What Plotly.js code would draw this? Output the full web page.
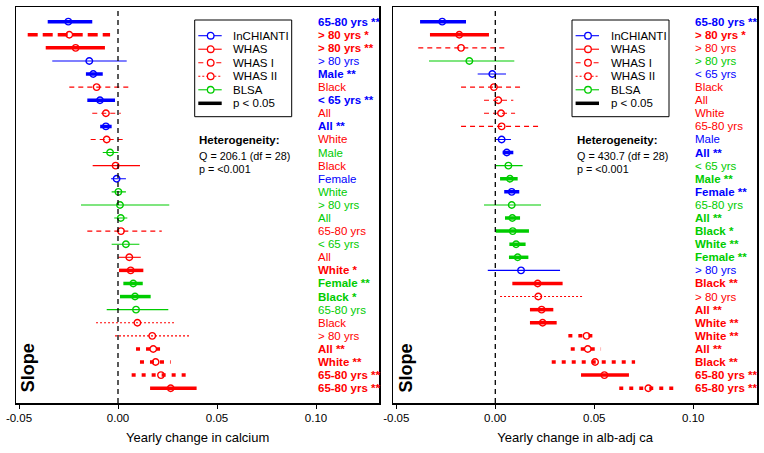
<!DOCTYPE html>
<html><head><meta charset="utf-8">
<script src="https://cdn.plot.ly/plotly-3.0.1.min.js"></script>
<style>html,body{margin:0;padding:0;background:#fff}</style>
</head><body><div id="chart" style="width:764px;height:453px"></div>
<script>
// ---- Data: left panel (yearly change in calcium) ----
const L_label = ["65-80 yrs","> 80 yrs","> 80 yrs","> 80 yrs","Male","Black","< 65 yrs","All","All","White","Male","Black","Female","White","> 80 yrs","All","65-80 yrs","< 65 yrs","All","White","Female","Black","65-80 yrs","Black","> 80 yrs","All","White","65-80 yrs","65-80 yrs"];
const L_star = ["**","*","**","","**","","**","","**","","","","","","","","","","","*","**","*","","","","**","**","**","**"];
const L_study = ["InCHIANTI","WHAS I","WHAS","InCHIANTI","InCHIANTI","WHAS I","InCHIANTI","WHAS I","InCHIANTI","WHAS I","BLSA","WHAS","InCHIANTI","BLSA","BLSA","BLSA","WHAS I","BLSA","WHAS","WHAS","BLSA","BLSA","BLSA","WHAS II","WHAS II","WHAS II","WHAS II","WHAS II","WHAS"];
const L_pt = [-0.0251,-0.0246,-0.0214,-0.0145,-0.0125,-0.0108,-0.0091,-0.0061,-0.0061,-0.0057,-0.0040,-0.0012,-0.0007,0.0002,0.0010,0.0014,0.0015,0.0040,0.0057,0.0064,0.0077,0.0086,0.0091,0.0098,0.0173,0.0178,0.0190,0.0217,0.0266];
const L_lo = [-0.0355,-0.0456,-0.0365,-0.0332,-0.0162,-0.0246,-0.0155,-0.0130,-0.0090,-0.0138,-0.0077,-0.0128,-0.0035,-0.0032,-0.0187,-0.0019,-0.0155,-0.0032,0.0002,0.0005,0.0027,0.0010,-0.0057,-0.0111,-0.0015,0.0091,0.0111,0.0069,0.0162];
const L_hi = [-0.0130,-0.0040,-0.0066,0.0044,-0.0077,0.0061,-0.0015,0.0014,-0.0032,0.0027,0.0002,0.0111,0.0040,0.0040,0.0259,0.0047,0.0221,0.0108,0.0115,0.0128,0.0125,0.0165,0.0254,0.0288,0.0364,0.0241,0.0266,0.0364,0.0397];

// ---- Data: right panel (yearly change in albumin-adjusted calcium) ----
const R_label = ["65-80 yrs","> 80 yrs","> 80 yrs","> 80 yrs","< 65 yrs","Black","All","White","65-80 yrs","Male","All","< 65 yrs","Male","Female","65-80 yrs","All","Black","White","Female","> 80 yrs","Black","> 80 yrs","All","White","White","All","Black","65-80 yrs","65-80 yrs"];
const R_star = ["**","*","","","","","","","","","**","","**","**","","**","*","**","**","","**","","**","**","**","**","**","**","**"];
const R_study = ["InCHIANTI","WHAS","WHAS I","BLSA","InCHIANTI","WHAS I","WHAS I","WHAS I","WHAS I","InCHIANTI","InCHIANTI","BLSA","BLSA","InCHIANTI","BLSA","BLSA","BLSA","BLSA","BLSA","InCHIANTI","WHAS","WHAS II","WHAS","WHAS","WHAS II","WHAS II","WHAS II","WHAS","WHAS II"];
const R_pt = [-0.0268,-0.0182,-0.0173,-0.0131,-0.0015,-0.0007,0.0015,0.0029,0.0032,0.0032,0.0058,0.0066,0.0074,0.0083,0.0083,0.0086,0.0088,0.0105,0.0113,0.0130,0.0214,0.0217,0.0234,0.0239,0.0461,0.0467,0.0504,0.0551,0.0773];
const R_lo = [-0.0380,-0.0330,-0.0389,-0.0335,-0.0089,-0.0173,-0.0057,-0.0057,-0.0173,0.0002,0.0037,0.0002,0.0024,0.0045,-0.0057,0.0049,0.0002,0.0071,0.0069,-0.0038,0.0086,0.0024,0.0175,0.0175,0.0369,0.0381,0.0285,0.0433,0.0626];
const R_hi = [-0.0148,-0.0032,0.0054,0.0096,0.0054,0.0133,0.0091,0.0100,0.0222,0.0079,0.0091,0.0138,0.0113,0.0121,0.0231,0.0125,0.0170,0.0153,0.0167,0.0327,0.0340,0.0441,0.0293,0.0310,0.0520,0.0534,0.0706,0.0675,0.0919];

const studies = ["InCHIANTI","WHAS","WHAS I","WHAS II","BLSA"];
const tickVals = [-0.05, 0, 0.05, 0.10];
const tickText = ["-0.05","0.00","0.05","0.10"];
const xTitles = ["Yearly change in calcium","Yearly change in alb-adj ca"];
const Qtext = ["Q = 206.1 (df = 28)","Q = 430.7 (df = 28)"];
const Ptext = ["p = <0.001","p = <0.001"];

// ---- Styling ----
const W = 764, H = 453, T = 7, B = 50;
const FONT = "Arial, 'Liberation Sans', sans-serif";
const COL = {"InCHIANTI":"#0000FF","WHAS":"#FF0000","WHAS I":"#FF0000","WHAS II":"#FF0000","BLSA":"#00CC00"};
function dashFor(study, sig){
  if (study === "WHAS I") return sig ? "10px,5px" : "5px,4px";
  if (study === "WHAS II") return sig ? "4px,6px" : "2px,2px";
  return "solid";
}
const px = x => x / W;
const py = y => (H - B - y) / (H - T - B);

const panels = [
  {xa:"x", ya:"y", label:L_label, star:L_star, study:L_study, pt:L_pt, lo:L_lo, hi:L_hi, left:16, right:379.3},
  {xa:"x2", ya:"y2", label:R_label, star:R_star, study:R_study, pt:R_pt, lo:R_lo, hi:R_hi, left:393.3, right:757}
];

const traces = [], shapes = [], annotations = [];
const layout = {
  width: W, height: H, margin: {l:0, r:0, t:T, b:B},
  paper_bgcolor: "#fff", plot_bgcolor: "#fff",
  showlegend: false, font: {family: FONT, color: "#000"}
};

panels.forEach((P, k) => {
  const n = P.pt.length;
  for (let i = 0; i < n; i++) {
    const sig = P.star[i] !== "";
    const c = COL[P.study[i]];
    traces.push({
      type: "scatter", mode: "lines", xaxis: P.xa, yaxis: P.ya,
      x: [P.lo[i], P.hi[i]], y: [i + 1, i + 1],
      line: {color: c, width: sig ? 3.5 : 1.1, dash: dashFor(P.study[i], sig)},
      hoverinfo: "skip", showlegend: false
    });
    traces.push({
      type: "scatter", mode: "markers", xaxis: P.xa, yaxis: P.ya,
      x: [P.pt[i]], y: [i + 1],
      marker: {symbol: "circle-open", size: 6.5, color: c, line: {width: 1.4, color: c}},
      hoverinfo: "skip", showlegend: false
    });
    const txt = P.label[i] + (sig ? " " + P.star[i] : "");
    annotations.push({
      xref: P.xa, yref: P.ya, x: 0.10, y: i + 1, xanchor: "left", yanchor: "middle",
      text: sig ? "<b>" + txt + "</b>" : txt, showarrow: false,
      font: {family: FONT, size: 11.5, color: c}
    });
  }
  const axSuffix = k === 0 ? "" : "2";
  const span = P.right - P.left;
  const x0px = k === 0 ? 118 : 495.3;
  const xmin = -(x0px - P.left) / 1980, xmax = xmin + span / 1980;
  layout["xaxis" + axSuffix] = {
    domain: [P.left / W, P.right / W], anchor: P.ya, range: [xmin, xmax],
    tickvals: tickVals, ticktext: tickText, ticks: "outside", ticklen: 4, tickwidth: 1, tickcolor: "#000",
    showline: true, mirror: true, linewidth: 1.5, linecolor: "#000",
    showgrid: false, zeroline: false, fixedrange: true,
    tickfont: {family: FONT, size: 11.5, color: "#000"},
    title: {text: xTitles[k], font: {family: FONT, size: 13, color: "#000"}, standoff: 9}
  };
  layout["yaxis" + axSuffix] = {
    domain: [0, 1], anchor: P.xa, range: [30.13, -0.12],
    showticklabels: false, ticks: "", showline: true, mirror: true, linewidth: 1.5, linecolor: "#000",
    showgrid: false, zeroline: false, fixedrange: true
  };
  // zero reference line
  shapes.push({type: "line", xref: P.xa, yref: P.ya + " domain", x0: 0, x1: 0, y0: 0, y1: 1,
    line: {color: "#000", width: 1.3, dash: "5px,4px"}});
  // "Slope" label
  annotations.push({xref: "paper", yref: "paper", x: px(P.left + 12.3), y: py(368), textangle: -90,
    text: "<b>Slope</b>", showarrow: false, xanchor: "center", yanchor: "middle",
    font: {family: FONT, size: 18, color: "#000"}});
  // Legend box
  const L = P.left;
  shapes.push({type: "rect", xref: "paper", yref: "paper", x0: px(L + 178.7), x1: px(L + 275.7),
    y0: py(20), y1: py(116.7), line: {color: "#000", width: 1}, fillcolor: "#fff"});
  const legItems = studies.concat(["p < 0.05"]);
  legItems.forEach((s, j) => {
    const yy = 35.7 + j * 13.52;
    const isP = s === "p < 0.05";
    const c = isP ? "#000" : COL[s];
    shapes.push({type: "line", xref: "paper", yref: "paper", x0: px(L + 182.3), x1: px(L + 205.7),
      y0: py(yy), y1: py(yy), line: {color: c, width: isP ? 3.5 : 1.1, dash: isP ? "solid" : dashFor(s, false)}});
    if (!isP) {
      shapes.push({type: "circle", xref: "paper", yref: "paper", x0: px(L + 191.4), x1: px(L + 198),
        y0: py(yy + 3.3), y1: py(yy - 3.3), line: {color: c, width: 1.3}, fillcolor: "#fff"});
    }
    annotations.push({xref: "paper", yref: "paper", x: px(L + 215.3), y: py(yy), xanchor: "left", yanchor: "middle",
      text: s, showarrow: false, font: {family: FONT, size: 11.5, color: "#000"}});
  });
  // Heterogeneity
  annotations.push({xref: "paper", yref: "paper", x: px(L + 181.3), y: py(140), xanchor: "left", yanchor: "middle",
    text: "<b>Heterogeneity:</b>", showarrow: false, font: {family: FONT, size: 11.5, color: "#000"}});
  annotations.push({xref: "paper", yref: "paper", x: px(L + 181.3), y: py(155.7), xanchor: "left", yanchor: "middle",
    text: Qtext[k], showarrow: false, font: {family: FONT, size: 10.8, color: "#000"}});
  annotations.push({xref: "paper", yref: "paper", x: px(L + 181.3), y: py(169), xanchor: "left", yanchor: "middle",
    text: Ptext[k], showarrow: false, font: {family: FONT, size: 10.8, color: "#000"}});
});

layout.shapes = shapes;
layout.annotations = annotations;
Plotly.newPlot("chart", traces, layout, {staticPlot: true, displayModeBar: false});
</script>
</body></html>
